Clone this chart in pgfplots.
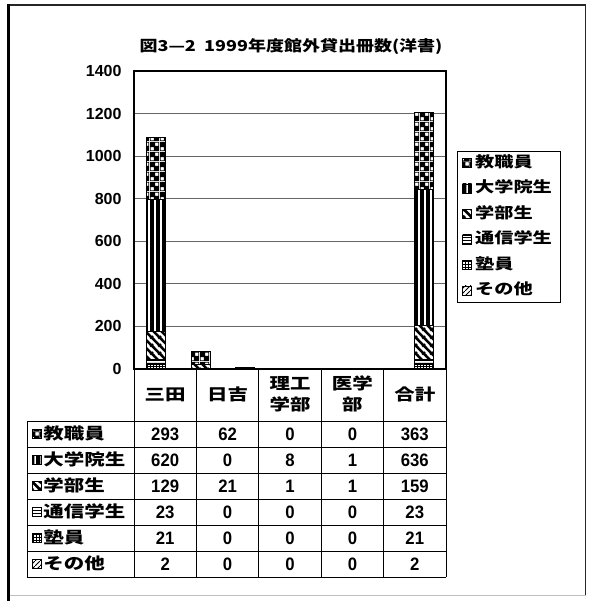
\documentclass[border=0pt]{standalone}
\usepackage{pgfplots}
\pgfplotsset{compat=1.18}
\usetikzlibrary{patterns}
\usepackage{fontspec}
\setmainfont{Noto Sans CJK JP}
\newfontfamily\jp{Noto Sans CJK JP}[FakeStretch=1.28]
\newfontfamily\jpt{Noto Sans CJK JP}[FakeStretch=1.2]
\newfontfamily\numf{Liberation Sans}[FakeStretch=0.93]
\newfontfamily\numt{Liberation Sans}

\newcommand\titlefont{\jpt\bfseries\fontsize{15}{18}\selectfont}
\newcommand\tabfont{\jp\bfseries\fontsize{16}{21}\selectfont}
\newcommand\legfont{\jp\bfseries\fontsize{15}{17}\selectfont}
\newcommand\tabnum{\numf\bfseries\fontsize{18}{21}\selectfont}
\newcommand\ylabfont{\numt\bfseries\fontsize{16}{19}\selectfont}

% fill patterns of the six groups
\pgfdeclarepatternformonly{kyoshoku}{\pgfpointorigin}{\pgfpoint{10pt}{10pt}}{\pgfpoint{10pt}{10pt}}{%
  \pgfpathrectangle{\pgfpointorigin}{\pgfpoint{10pt}{10pt}}%
  \pgfpathrectangle{\pgfpoint{0.75pt}{0.75pt}}{\pgfpoint{3.5pt}{3.5pt}}%
  \pgfpathrectangle{\pgfpoint{5.75pt}{5.75pt}}{\pgfpoint{3.5pt}{3.5pt}}%
  \pgfseteorule\pgfusepath{fill}}
\pgfdeclarepatternformonly{inseisei}{\pgfpointorigin}{\pgfpoint{6pt}{6pt}}{\pgfpoint{6pt}{6pt}}{%
  \pgfpathrectangle{\pgfpoint{0pt}{-1pt}}{\pgfpoint{4.6pt}{8pt}}\pgfusepath{fill}}
\pgfdeclarepatternformonly{gakubu}{\pgfpointorigin}{\pgfpoint{8pt}{8pt}}{\pgfpoint{8pt}{8pt}}{%
  \pgfsetlinewidth{2.8pt}%
  \pgfpathmoveto{\pgfpoint{-1pt}{9pt}}\pgfpathlineto{\pgfpoint{9pt}{-1pt}}%
  \pgfpathmoveto{\pgfpoint{-1pt}{1pt}}\pgfpathlineto{\pgfpoint{1pt}{-1pt}}%
  \pgfpathmoveto{\pgfpoint{7pt}{9pt}}\pgfpathlineto{\pgfpoint{9pt}{7pt}}%
  \pgfusepath{stroke}}
\pgfdeclarepatternformonly{tsushin}{\pgfpointorigin}{\pgfpoint{3pt}{3pt}}{\pgfpoint{3pt}{3pt}}{%
  \pgfpathrectangle{\pgfpoint{-1pt}{0pt}}{\pgfpoint{5pt}{1.2pt}}\pgfusepath{fill}}
\pgfdeclarepatternformonly{jukuin}{\pgfpointorigin}{\pgfpoint{3pt}{3pt}}{\pgfpoint{3pt}{3pt}}{%
  \pgfpathrectangle{\pgfpoint{-1pt}{0pt}}{\pgfpoint{5pt}{1pt}}%
  \pgfpathrectangle{\pgfpoint{0pt}{-1pt}}{\pgfpoint{1pt}{5pt}}\pgfusepath{fill}}
\pgfdeclarepatternformonly{sonota}{\pgfpointorigin}{\pgfpoint{5pt}{5pt}}{\pgfpoint{5pt}{5pt}}{%
  \pgfsetlinewidth{0.9pt}%
  \pgfpathmoveto{\pgfpoint{-1pt}{-1pt}}\pgfpathlineto{\pgfpoint{6pt}{6pt}}%
  \pgfusepath{stroke}}

\pgfplotsset{
  pat/.style={draw=black, line width=1pt, fill=white, postaction={pattern=#1},
    legend image code/.code={\draw[##1, line width=0.8pt] (0pt,-4.5pt) rectangle (9pt,4.5pt);}},
}

\begin{document}
\begin{tikzpicture}
\path[use as bounding box, fill=white] (0pt,0pt) rectangle (588pt,601pt);
% outer frame
\draw[black!85, line width=1.4pt] (8pt,596pt) -- (585.5pt,596pt) -- (585.5pt,5pt);
\draw[black!25, line width=1pt] (8pt,5pt) -- (585.5pt,5pt);
\draw[black, line width=3pt] (8pt,0pt) -- (8pt,597pt);

\node[font=\titlefont] at (291pt,554pt) {図3—2\ \ 1999年度館外貸出冊数(洋書)};

\begin{axis}[
  at={(134pt,232pt)}, anchor=south west,
  scale only axis, width=312pt, height=298pt,
  xmin=-0.5, xmax=6.5, ymin=0, ymax=1400,
  enlargelimits=false,
  ybar stacked, bar width=19pt,
  xtick=\empty,
  ytick={0,200,...,1400},
  ymajorgrids, major grid style={black!60, line width=0.8pt},
  major tick length=0pt,
  axis line style={line width=1.2pt},
  yticklabel style={font=\ylabfont, anchor=east, xshift=-9pt},
  /pgf/number format/assume math mode=true,
  /pgf/number format/1000 sep={},
  reverse legend,
  legend style={at={(1.035,0.7315)}, anchor=north west, draw=black, line width=0.8pt,
    fill=white, font=\legfont, row sep=10.5pt, inner xsep=5pt, inner ysep=4pt,
    nodes={inner xsep=3pt, inner ysep=0pt, text height=12pt, text depth=3pt}},
  legend cell align=left,
]
% stacked from the bottom: その他, 塾員, 通信学生, 学部生, 大学院生, 教職員
\addplot[pat=sonota]   coordinates {(0,2)   (1,0)  (2,0) (3,0) (6,2)};
\addlegendentry{その他}
\addplot[pat=jukuin]   coordinates {(0,21)  (1,0)  (2,0) (3,0) (6,21)};
\addlegendentry{塾員}
\addplot[pat=tsushin]  coordinates {(0,23)  (1,0)  (2,0) (3,0) (6,23)};
\addlegendentry{通信学生}
\addplot[pat=gakubu]   coordinates {(0,129) (1,21) (2,1) (3,1) (6,159)};
\addlegendentry{学部生}
\addplot[pat=inseisei] coordinates {(0,620) (1,0)  (2,8) (3,1) (6,636)};
\addlegendentry{大学院生}
\addplot[pat=kyoshoku] coordinates {(0,293) (1,62) (2,0) (3,0) (6,363)};
\addlegendentry{教職員}
\end{axis}

% data table under the plot
\begin{scope}[x=1pt, y=1pt, line width=0.9pt]
  \foreach \x in {134,196.4,258.8,321.2,383.6,446} \draw (\x,232) -- (\x,24);
  \foreach \y in {180,154,128,102,76,50,24} \draw (27,\y) -- (446,\y);
  \draw (27,180) -- (27,24);
  \node[font=\tabfont, anchor=base, inner sep=0pt] at (165.2,200) {三田};
  \node[font=\tabfont, anchor=base, inner sep=0pt] at (227.6,200) {日吉};
  \node[font=\tabfont, anchor=base, inner sep=0pt] at (290,211) {理工};
  \node[font=\tabfont, anchor=base, inner sep=0pt] at (290,190) {学部};
  \node[font=\tabfont, anchor=base, inner sep=0pt] at (352.4,211) {医学};
  \node[font=\tabfont, anchor=base, inner sep=0pt] at (352.4,190) {部};
  \node[font=\tabfont, anchor=base, inner sep=0pt] at (414.8,200) {合計};
  \foreach \lab/\pat/\yc/\a/\b/\c/\d/\e in {
      教職員/kyoshoku/167/293/62/0/0/363,
      大学院生/inseisei/141/620/0/8/1/636,
      学部生/gakubu/115/129/21/1/1/159,
      通信学生/tsushin/89/23/0/0/0/23,
      塾員/jukuin/63/21/0/0/0/21,
      その他/sonota/37/2/0/0/0/2}{
    \draw[line width=0.8pt, fill=white, postaction={pattern=\pat}] (32,\yc-4.5) rectangle (41,\yc+4.5);
    \node[font=\tabfont, anchor=base west, inner sep=0pt] at (43,\yc-6) {\lab};
    \foreach \v [count=\i] in {\a,\b,\c,\d,\e}
      \node[font=\tabnum, anchor=base, inner sep=0pt] at ({134+62.4*(\i-0.5)},\yc-6.5) {\v};
  }
\end{scope}
\end{tikzpicture}
\end{document}
